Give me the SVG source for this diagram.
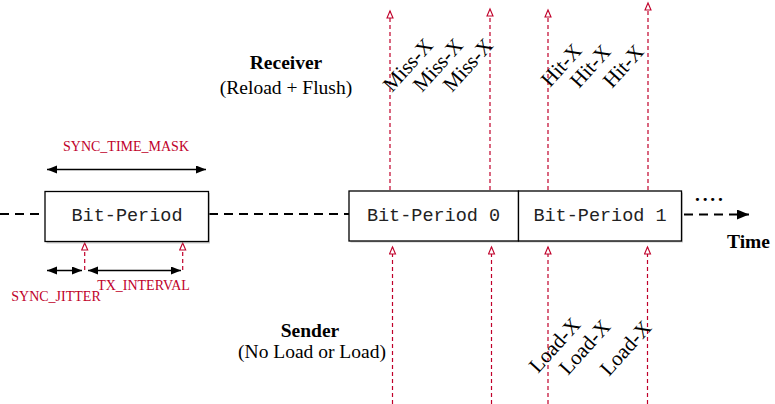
<svg xmlns="http://www.w3.org/2000/svg" width="775" height="404" viewBox="0 0 775 404">
<style>
.box{fill:#fff;stroke:#000;stroke-width:1.3}
.shadow{fill:#999;opacity:0.5}
.mono{font-family:"Liberation Mono",monospace;font-size:18.5px;fill:#222;text-anchor:middle}
.serif{font-family:"Liberation Serif",serif;font-size:19.5px;fill:#000}
.rot{font-family:"Liberation Serif",serif;font-size:21px;fill:#000}
.bold{font-weight:bold}
.red{font-family:"Liberation Serif",serif;font-size:14px;fill:#c0002a}
.rdash{stroke:#c0002a;stroke-width:1.2;stroke-dasharray:4,3;fill:none}
.bdash{stroke:#000;stroke-width:2;stroke-dasharray:9,6;fill:none}
.barrow{stroke:#000;stroke-width:1.3;fill:none}
</style>
<defs>
<marker id="ra" markerWidth="10" markerHeight="10" refX="8" refY="4" orient="auto" markerUnits="userSpaceOnUse">
<path d="M1,1 L8,4 L1,7 z" fill="#fff" stroke="#c0002a" stroke-width="1.1"/>
</marker>
<marker id="ba" markerWidth="12" markerHeight="10" refX="10" refY="4" orient="auto-start-reverse" markerUnits="userSpaceOnUse">
<path d="M0,0 L10,4 L0,8 z" fill="#000"/>
</marker>
<marker id="bta" markerWidth="14" markerHeight="12" refX="12" refY="5" orient="auto" markerUnits="userSpaceOnUse">
<path d="M0,0 L12,5 L0,10 z" fill="#000"/>
</marker>
</defs>
<g id="connectors">
<line class="bdash" x1="0" y1="214" x2="45" y2="214"/>
<line class="bdash" x1="209" y1="214" x2="349" y2="214"/>
<line class="bdash" x1="684" y1="214.5" x2="749" y2="214.5" marker-end="url(#bta)"/>
<line class="barrow" x1="47" y1="169.5" x2="206" y2="169.5" marker-start="url(#ba)" marker-end="url(#ba)"/>
<line class="barrow" x1="47" y1="270.5" x2="82" y2="270.5" marker-start="url(#ba)" marker-end="url(#ba)"/>
<line class="barrow" x1="88" y1="270.5" x2="181" y2="270.5" marker-start="url(#ba)" marker-end="url(#ba)"/>
<line class="rdash" x1="84.7" y1="270" x2="84.7" y2="243" marker-end="url(#ra)"/>
<line class="rdash" x1="182.7" y1="270" x2="182.7" y2="243" marker-end="url(#ra)"/>
<line class="rdash" x1="390" y1="190" x2="390" y2="11" marker-end="url(#ra)"/>
<line class="rdash" x1="490" y1="190" x2="490" y2="9" marker-end="url(#ra)"/>
<line class="rdash" x1="548" y1="190" x2="548" y2="10" marker-end="url(#ra)"/>
<line class="rdash" x1="648" y1="190" x2="648" y2="3" marker-end="url(#ra)"/>
<line class="rdash" x1="392.5" y1="404" x2="392.5" y2="247" marker-end="url(#ra)"/>
<line class="rdash" x1="491.5" y1="404" x2="491.5" y2="247" marker-end="url(#ra)"/>
<line class="rdash" x1="548" y1="404" x2="548" y2="247" marker-end="url(#ra)"/>
<line class="rdash" x1="647.5" y1="404" x2="647.5" y2="247" marker-end="url(#ra)"/>
</g>
<g id="bit-period">
<rect class="shadow" x="46.5" y="193" width="163.5" height="50.5"/>
<rect class="box" x="45" y="191.5" width="163.5" height="50"/>
<text class="mono" x="127" y="221">Bit-Period</text>
</g>
<g id="bit-period-0">
<rect class="shadow" x="350.5" y="192.5" width="169" height="50"/>
<rect class="box" x="349" y="191" width="169.5" height="50"/>
<text class="mono" x="433.5" y="221">Bit-Period 0</text>
</g>
<g id="bit-period-1">
<rect class="shadow" x="519.5" y="192.5" width="163.5" height="50"/>
<rect class="box" x="518.5" y="191" width="163" height="50"/>
<text class="mono" x="600" y="221">Bit-Period 1</text>
</g>
<g id="labels">
<text class="red" x="126" y="151" text-anchor="middle">SYNC_TIME_MASK</text>
<text class="red" x="56" y="301" text-anchor="middle">SYNC_JITTER</text>
<text class="red" x="143.5" y="290" text-anchor="middle">TX_INTERVAL</text>
<text class="serif bold" x="286" y="69" text-anchor="middle">Receiver</text>
<text class="serif" x="286" y="94" text-anchor="middle">(Reload + Flush)</text>
<text class="serif bold" x="310" y="337" text-anchor="middle">Sender</text>
<text class="serif" x="312" y="358" text-anchor="middle">(No Load or Load)</text>
<text class="serif bold" x="727" y="248">Time</text>
<text class="serif bold" x="695" y="201" letter-spacing="2.8">....</text>
<text class="rot" transform="translate(392,93) rotate(-48)">Miss-X</text>
<text class="rot" transform="translate(422,93) rotate(-48)">Miss-X</text>
<text class="rot" transform="translate(452,93) rotate(-48)">Miss-X</text>
<text class="rot" transform="translate(550,88) rotate(-48)">Hit-X</text>
<text class="rot" transform="translate(579,89) rotate(-48)">Hit-X</text>
<text class="rot" transform="translate(612,89) rotate(-48)">Hit-X</text>
<text class="rot" transform="translate(538,374) rotate(-48)">Load-X</text>
<text class="rot" transform="translate(568,376) rotate(-48)">Load-X</text>
<text class="rot" transform="translate(609,377) rotate(-48)">Load-X</text>
</g>
</svg>
